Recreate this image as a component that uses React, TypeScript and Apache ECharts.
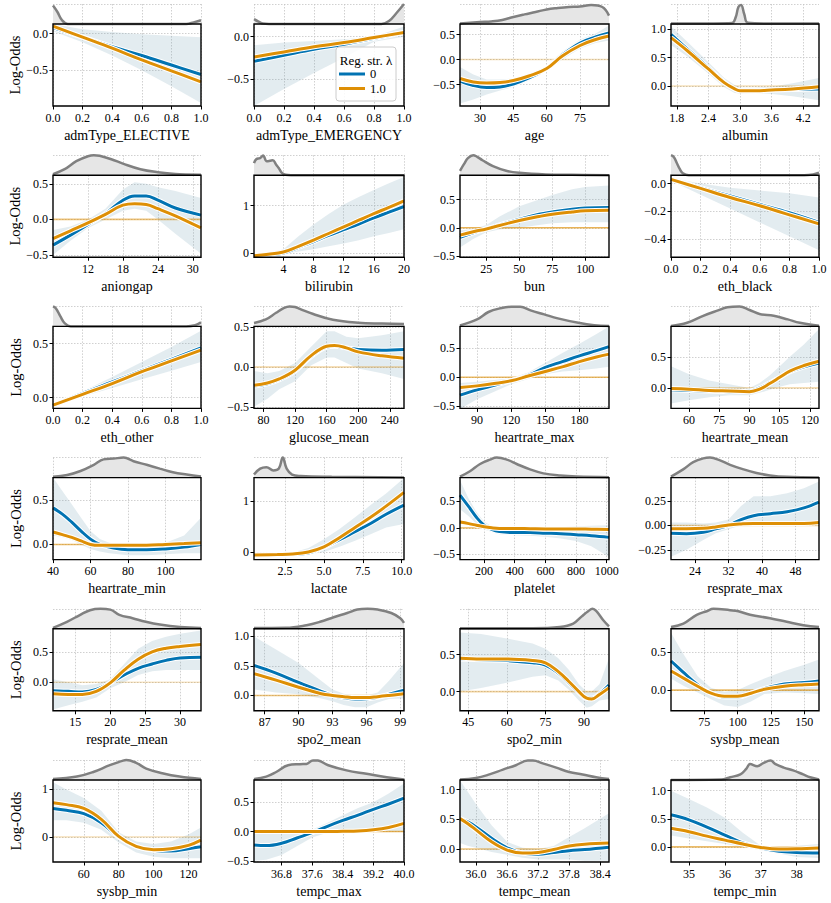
import React, { useEffect, useRef } from 'react';
import * as echarts from 'echarts';

const features = ['admType_ELECTIVE', 'admType_EMERGENCY', 'age', 'albumin', 'aniongap', 'bilirubin', 'bun', 'eth_black', 'eth_other', 'glucose_mean', 'heartrate_max', 'heartrate_mean', 'heartrate_min', 'lactate', 'platelet', 'resprate_max', 'resprate_mean', 'spo2_mean', 'spo2_min', 'sysbp_mean', 'sysbp_min', 'tempc_max', 'tempc_mean', 'tempc_min'];

const xLimits = [[0, 1], [0, 1], [21, 88], [1.69, 4.5], [6, 31.4], [0.1, 20], [5, 118], [0, 1], [0, 1], [68, 258], [75, 206], [51, 124.5], [40, 119], [0.5, 10.15], [43, 1015], [18.3, 53.6], [11.8, 33], [86.05, 99.33], [41.8, 99.7], [50, 161], [42.3, 127.2], [36.08, 40.0], [35.69, 38.57], [34.5, 38.62]];

const yLimits = [[-0.99, 0.13], [-0.82, 0.15], [-0.93, 0.71], [-0.35, 1.09], [-0.53, 0.62], [-0.09, 1.64], [-0.52, 0.93], [-0.53, 0.06], [-0.1, 0.66], [-0.52, 0.51], [-0.54, 0.88], [-0.33, 0.99], [-0.17, 0.75], [-0.15, 1.46], [-0.6, 0.95], [-0.35, 0.49], [-0.47, 0.88], [-0.26, 1.13], [-0.26, 0.85], [-0.27, 0.8], [-0.53, 1.2], [-0.52, 0.88], [-0.22, 1.16], [-0.27, 1.19]];

const xTickVals = [[0, 0.2, 0.4, 0.6, 0.8, 1.0], [0, 0.2, 0.4, 0.6, 0.8, 1.0], [30, 45, 60, 75], [1.8, 2.4, 3.0, 3.6, 4.2], [12, 18, 24, 30], [4, 8, 12, 16, 20], [25, 50, 75, 100], [0, 0.2, 0.4, 0.6, 0.8, 1.0], [0, 0.2, 0.4, 0.6, 0.8, 1.0], [80, 120, 160, 200, 240], [90, 120, 150, 180], [60, 75, 90, 105, 120], [40, 60, 80, 100], [2.5, 5.0, 7.5, 10.0], [200, 400, 600, 800, 1000], [24, 32, 40, 48], [15, 20, 25, 30], [87, 90, 93, 96, 99], [45, 60, 75, 90], [75, 100, 125, 150], [60, 80, 100, 120], [36.8, 37.6, 38.4, 39.2, 40.0], [36.0, 36.6, 37.2, 37.8, 38.4], [35, 36, 37, 38]];

const yTickVals = [[-0.5, 0], [-0.5, 0], [-0.5, 0, 0.5], [0, 0.5, 1], [-0.5, 0, 0.5], [0, 1], [-0.5, 0, 0.5], [-0.4, -0.2, 0], [0, 0.5], [-0.5, 0, 0.5], [-0.5, 0, 0.5], [0, 0.5], [0, 0.5], [0, 1], [-0.5, 0, 0.5], [-0.25, 0, 0.25], [0, 0.5], [0, 0.5, 1], [0, 0.5], [0, 0.5], [0, 1], [-0.5, 0, 0.5], [0, 0.5, 1], [0, 0.5, 1]];

const curveX = [
  [0, 0.2, 0.4, 0.6, 0.8, 1],
  [0, 0.2, 0.4, 0.6, 0.8, 1],
  [21, 27, 33, 39, 45, 52, 60, 67, 75, 82, 88],
  [1.69, 2.0, 2.4, 2.7, 2.9, 3.0, 3.3, 3.6, 4.0, 4.5],
  [6, 9, 12, 15, 18, 20, 22, 24, 27, 31.4],
  [0.1, 2, 4, 6, 8, 10, 12, 14, 16, 18, 20],
  [5, 15, 25, 35, 50, 65, 75, 90, 100, 118],
  [0, 0.2, 0.4, 0.6, 0.8, 1],
  [0, 0.2, 0.4, 0.6, 0.8, 1],
  [68, 85, 100, 120, 140, 160, 170, 185, 200, 230, 258],
  [75, 90, 105, 120, 135, 150, 165, 180, 195, 206],
  [51, 60, 70, 80, 90, 95, 100, 105, 110, 117, 124.5],
  [40, 45, 50, 55, 60, 65, 70, 80, 90, 100, 110, 119],
  [0.5, 2, 3, 4, 5, 6, 7, 8, 9, 10.15],
  [43, 100, 150, 200, 250, 300, 400, 500, 600, 700, 800, 900, 1015],
  [18.3, 22, 26, 29, 32, 35, 38, 42, 46, 50, 53.6],
  [11.8, 14, 16, 18, 20, 22, 24, 26, 28, 30, 33],
  [86.05, 88, 90, 92, 93, 94, 95, 96, 97, 98, 99.33],
  [41.8, 50, 60, 70, 75, 80, 84, 88, 91, 93, 96, 99.7],
  [50, 55, 60, 70, 80, 90, 100, 110, 120, 135, 150, 161],
  [42.3, 50, 60, 70, 80, 90, 100, 110, 120, 127.2],
  [36.08, 36.4, 36.8, 37.2, 37.6, 38.0, 38.4, 38.8, 39.2, 39.6, 40.0],
  [35.69, 35.85, 36.0, 36.3, 36.6, 36.9, 37.2, 37.5, 37.8, 38.1, 38.57],
  [34.5, 35.0, 35.5, 36.0, 36.5, 37.0, 37.5, 38.0, 38.62],
];

// regularisation strength 0
const blueY = [
  [0.08, -0.05, -0.18, -0.30, -0.43, -0.56],
  [-0.29, -0.22, -0.15, -0.09, -0.02, 0.05],
  [-0.43, -0.52, -0.56, -0.55, -0.49, -0.37, -0.18, 0.09, 0.33, 0.45, 0.53],
  [0.91, 0.65, 0.32, 0.07, -0.05, -0.08, -0.08, -0.07, -0.06, -0.05],
  [-0.36, -0.22, -0.07, 0.08, 0.27, 0.33, 0.33, 0.27, 0.16, 0.06],
  [-0.06, -0.04, 0.0, 0.12, 0.24, 0.37, 0.49, 0.61, 0.74, 0.86, 0.98],
  [-0.17, -0.09, -0.02, 0.05, 0.15, 0.24, 0.28, 0.33, 0.35, 0.36],
  [0.03, -0.03, -0.09, -0.15, -0.21, -0.28],
  [-0.07, 0.04, 0.145, 0.25, 0.355, 0.46],
  [-0.24, -0.21, -0.16, -0.05, 0.13, 0.25, 0.26, 0.24, 0.22, 0.21, 0.22],
  [-0.31, -0.22, -0.14, -0.06, 0.03, 0.17, 0.27, 0.37, 0.46, 0.53],
  [-0.03, -0.04, -0.05, -0.06, -0.05, 0.0, 0.08, 0.17, 0.26, 0.34, 0.40],
  [0.41, 0.34, 0.25, 0.15, 0.06, 0.0, -0.03, -0.06, -0.06, -0.05, -0.03, 0.0],
  [-0.06, -0.05, -0.045, -0.02, 0.09, 0.24, 0.40, 0.56, 0.74, 0.92],
  [0.62, 0.40, 0.20, 0.05, -0.03, -0.07, -0.09, -0.09, -0.10, -0.11, -0.13, -0.15, -0.18],
  [-0.08, -0.085, -0.07, -0.035, 0.0, 0.06, 0.10, 0.12, 0.14, 0.18, 0.24],
  [-0.14, -0.15, -0.16, -0.12, -0.01, 0.12, 0.23, 0.30, 0.36, 0.40, 0.41],
  [0.51, 0.38, 0.22, 0.07, 0.0, -0.04, -0.06, -0.055, -0.03, 0.02, 0.09],
  [0.44, 0.43, 0.42, 0.39, 0.36, 0.25, 0.12, -0.01, -0.09, -0.09, -0.03, 0.09],
  [0.38, 0.30, 0.22, 0.07, -0.04, -0.09, -0.09, -0.04, 0.02, 0.08, 0.10, 0.12],
  [0.60, 0.56, 0.49, 0.30, 0.0, -0.20, -0.28, -0.30, -0.25, -0.21],
  [-0.23, -0.24, -0.20, -0.11, -0.02, 0.09, 0.19, 0.28, 0.38, 0.47, 0.57],
  [0.51, 0.45, 0.37, 0.18, 0.02, -0.07, -0.09, -0.06, -0.03, -0.01, 0.03],
  [0.57, 0.48, 0.35, 0.21, 0.07, -0.02, -0.08, -0.10, -0.11],
];

// regularisation strength 1.0
const orangeY = [
  [0.10, -0.05, -0.20, -0.36, -0.51, -0.66],
  [-0.24, -0.18, -0.12, -0.07, -0.01, 0.05],
  [-0.38, -0.45, -0.47, -0.46, -0.42, -0.33, -0.18, 0.07, 0.28, 0.40, 0.47],
  [0.85, 0.62, 0.30, 0.06, -0.05, -0.08, -0.08, -0.07, -0.05, -0.01],
  [-0.27, -0.16, -0.05, 0.07, 0.20, 0.22, 0.21, 0.15, 0.05, -0.12],
  [-0.06, -0.03, 0.02, 0.14, 0.27, 0.41, 0.55, 0.69, 0.83, 0.96, 1.10],
  [-0.13, -0.07, -0.02, 0.04, 0.13, 0.20, 0.24, 0.28, 0.30, 0.31],
  [0.03, -0.035, -0.10, -0.16, -0.225, -0.29],
  [-0.07, 0.03, 0.13, 0.24, 0.34, 0.44],
  [-0.23, -0.20, -0.15, -0.04, 0.14, 0.26, 0.27, 0.24, 0.19, 0.14, 0.11],
  [-0.18, -0.15, -0.11, -0.06, 0.02, 0.10, 0.18, 0.27, 0.35, 0.40],
  [-0.01, -0.02, -0.04, -0.05, -0.06, -0.02, 0.07, 0.17, 0.27, 0.36, 0.43],
  [0.14, 0.11, 0.08, 0.04, 0.0, -0.01, -0.01, -0.01, -0.01, 0.0, 0.01, 0.02],
  [-0.06, -0.05, -0.04, 0.0, 0.10, 0.28, 0.48, 0.68, 0.90, 1.17],
  [0.11, 0.08, 0.05, 0.02, 0.0, -0.01, -0.01, -0.015, -0.02, -0.02, -0.02, -0.025, -0.03],
  [-0.035, -0.035, -0.03, -0.015, 0.005, 0.015, 0.02, 0.02, 0.02, 0.02, 0.03],
  [-0.19, -0.20, -0.20, -0.15, -0.01, 0.20, 0.38, 0.50, 0.56, 0.59, 0.62],
  [0.37, 0.26, 0.14, 0.03, 0.0, -0.02, -0.035, -0.035, -0.02, 0.0, 0.03],
  [0.45, 0.44, 0.44, 0.42, 0.39, 0.27, 0.14, 0.0, -0.09, -0.10, -0.04, 0.05],
  [0.25, 0.20, 0.15, 0.05, -0.04, -0.08, -0.08, -0.04, 0.01, 0.05, 0.07, 0.08],
  [0.72, 0.68, 0.60, 0.37, 0.01, -0.20, -0.27, -0.25, -0.18, -0.07],
  [0.0, 0.0, 0.0, 0.0, 0.0, 0.0, 0.005, 0.01, 0.03, 0.07, 0.14],
  [0.51, 0.42, 0.32, 0.12, -0.02, -0.07, -0.06, -0.01, 0.05, 0.08, 0.10],
  [0.33, 0.27, 0.19, 0.12, 0.05, -0.01, -0.04, -0.035, -0.02],
];

// envelope of the bootstrap curves
const bandLo = [
  [0.03, -0.12, -0.30, -0.50, -0.72, -0.95],
  [-0.82, -0.62, -0.43, -0.25, -0.06, 0.0],
  [-0.88, -0.80, -0.70, -0.62, -0.55, -0.42, -0.23, 0.0, 0.22, 0.33, 0.38],
  [0.72, 0.52, 0.22, -0.02, -0.12, -0.13, -0.12, -0.14, -0.18, -0.25],
  [-0.50, -0.30, -0.12, 0.0, 0.12, 0.15, 0.12, 0.0, -0.20, -0.48],
  [-0.09, -0.07, -0.03, 0.03, 0.08, 0.14, 0.20, 0.27, 0.35, 0.42, 0.50],
  [-0.35, -0.20, -0.08, -0.03, 0.0, 0.05, 0.08, 0.10, 0.10, 0.10],
  [0.02, -0.08, -0.18, -0.28, -0.38, -0.48],
  [-0.08, 0.01, 0.09, 0.17, 0.25, 0.33],
  [-0.50, -0.40, -0.28, -0.18, 0.02, 0.12, 0.12, 0.05, -0.02, -0.08, -0.15],
  [-0.55, -0.38, -0.25, -0.12, -0.03, 0.05, 0.10, 0.12, 0.15, 0.18],
  [-0.25, -0.20, -0.15, -0.12, -0.12, -0.08, -0.03, 0.02, 0.06, 0.08, 0.10],
  [0.10, 0.08, 0.05, 0.0, -0.05, -0.08, -0.10, -0.12, -0.12, -0.11, -0.10, -0.10],
  [-0.10, -0.08, -0.07, -0.05, 0.0, 0.10, 0.22, 0.35, 0.48, 0.55],
  [0.35, 0.22, 0.08, -0.03, -0.08, -0.12, -0.14, -0.15, -0.17, -0.20, -0.25, -0.35, -0.55],
  [-0.32, -0.25, -0.15, -0.08, -0.04, 0.0, 0.02, 0.03, 0.03, 0.01, 0.0],
  [-0.45, -0.38, -0.32, -0.25, -0.10, 0.0, 0.12, 0.18, 0.20, 0.20, 0.20],
  [0.10, 0.05, 0.02, -0.05, -0.10, -0.16, -0.20, -0.20, -0.12, -0.06, -0.05],
  [0.0, 0.05, 0.12, 0.20, 0.22, 0.15, 0.03, -0.12, -0.22, -0.20, -0.12, -0.10],
  [0.15, 0.10, 0.05, -0.03, -0.12, -0.20, -0.22, -0.15, -0.05, -0.03, -0.04, -0.05],
  [0.35, 0.35, 0.30, 0.15, -0.12, -0.33, -0.42, -0.45, -0.45, -0.45],
  [-0.50, -0.48, -0.40, -0.25, -0.10, -0.02, 0.0, 0.0, 0.0, 0.0, 0.0],
  [0.10, 0.05, 0.02, -0.05, -0.10, -0.15, -0.18, -0.18, -0.18, -0.20, -0.20],
  [0.20, 0.15, 0.10, 0.05, 0.0, -0.06, -0.12, -0.18, -0.20],
];

const bandHi = [
  [0.13, 0.06, 0.02, -0.01, -0.03, -0.05],
  [-0.10, -0.07, -0.05, -0.03, 0.0, 0.12],
  [-0.15, -0.30, -0.40, -0.40, -0.38, -0.30, -0.13, 0.16, 0.40, 0.52, 0.68],
  [1.05, 0.78, 0.42, 0.14, 0.02, -0.03, -0.03, -0.01, 0.05, 0.14],
  [-0.15, -0.10, 0.0, 0.15, 0.42, 0.52, 0.50, 0.45, 0.40, 0.30],
  [-0.03, 0.0, 0.08, 0.35, 0.60, 0.82, 1.02, 1.18, 1.33, 1.47, 1.60],
  [-0.05, -0.02, 0.05, 0.20, 0.38, 0.50, 0.58, 0.68, 0.72, 0.75],
  [0.04, 0.0, -0.03, -0.05, -0.07, -0.10],
  [-0.06, 0.06, 0.19, 0.33, 0.47, 0.62],
  [-0.05, -0.08, -0.05, 0.05, 0.25, 0.45, 0.45, 0.38, 0.36, 0.40, 0.45],
  [-0.10, -0.08, -0.05, -0.02, 0.08, 0.25, 0.42, 0.58, 0.75, 0.88],
  [0.35, 0.22, 0.12, 0.06, 0.0, 0.08, 0.20, 0.35, 0.50, 0.70, 0.95],
  [0.75, 0.60, 0.45, 0.30, 0.15, 0.06, 0.02, 0.0, 0.0, 0.02, 0.10, 0.30],
  [-0.02, -0.02, -0.01, 0.08, 0.25, 0.45, 0.68, 0.92, 1.15, 1.45],
  [0.90, 0.55, 0.30, 0.12, 0.03, 0.0, -0.02, -0.02, 0.0, 0.01, 0.03, 0.04, 0.05],
  [0.03, 0.03, 0.02, 0.03, 0.06, 0.20, 0.30, 0.30, 0.33, 0.38, 0.45],
  [0.05, 0.0, -0.05, -0.03, 0.05, 0.30, 0.55, 0.68, 0.75, 0.80, 0.85],
  [1.0, 0.78, 0.55, 0.25, 0.10, 0.03, 0.0, 0.0, 0.05, 0.25, 0.55],
  [0.80, 0.78, 0.72, 0.65, 0.58, 0.45, 0.30, 0.10, 0.0, 0.0, 0.10, 0.45],
  [0.75, 0.60, 0.45, 0.18, 0.03, -0.02, 0.0, 0.08, 0.15, 0.25, 0.33, 0.40],
  [1.15, 1.0, 0.82, 0.55, 0.10, -0.10, -0.15, -0.10, 0.05, 0.20],
  [0.02, 0.02, 0.02, 0.02, 0.03, 0.15, 0.28, 0.40, 0.50, 0.65, 0.82],
  [1.15, 0.95, 0.75, 0.40, 0.12, 0.02, 0.0, 0.05, 0.20, 0.35, 0.60],
  [1.0, 0.85, 0.70, 0.52, 0.25, 0.02, 0.0, 0.02, 0.05],
];

// share of bootstrap fits shrunk to exactly zero (drawn as orange line at 0)
const zeroLineWeight = [0, 0, 0.35, 0.35, 0.7, 0, 0.9, 0, 0, 0.5, 0.8, 0.4, 0.8, 0, 0.7, 0.5, 0.3, 0.7, 0.5, 0.8, 0.3, 0.9, 0.7, 0.8];

// feature distribution (scaled density)
const densX = [
  [0, 0.03, 0.06, 0.1, 0.5, 0.9, 0.95, 1.0],
  [0, 0.03, 0.06, 0.1, 0.5, 0.85, 0.9, 0.95, 1.0],
  [21, 30, 35, 40, 45, 50, 55, 60, 65, 70, 75, 80, 85, 88],
  [1.69, 2.5, 2.85, 2.92, 2.97, 3.02, 3.08, 3.15, 3.5, 4.5],
  [6, 8, 10, 12, 13, 14, 16, 18, 21, 24, 27, 31.4],
  [0.1, 0.4, 0.9, 1.3, 1.8, 2.2, 2.6, 3.0, 3.4, 3.8, 4.3, 5, 20],
  [5, 8, 11, 15, 18, 22, 30, 40, 50, 70, 90, 118],
  [0, 0.02, 0.04, 0.06, 0.08, 0.12, 0.9, 0.96, 1.0],
  [0, 0.02, 0.05, 0.08, 0.12, 0.9, 0.96, 1.0],
  [68, 83, 96, 105, 113, 120, 126, 143, 168, 200, 230, 258],
  [75, 90, 100, 110, 120, 128, 137, 149, 161, 179, 193, 206],
  [51, 59, 67, 74, 79, 85, 90, 95, 102, 109, 115, 124.5],
  [40, 47.6, 54.7, 61.8, 67, 72.4, 77.7, 83, 90, 97, 104, 111.4, 119],
  [0.5, 0.9, 1.3, 1.75, 2.1, 2.35, 2.6, 2.95, 3.5, 5.5, 10.15],
  [43, 108, 174, 239, 283, 348, 413, 500, 587, 696, 804, 1015],
  [18.3, 21.2, 23.6, 26, 27.6, 30, 32.4, 35.6, 38.7, 41.9, 45.9, 53.6],
  [11.8, 13.8, 15.7, 17.1, 18.6, 20, 21.3, 23.2, 25.1, 27.1, 30, 33],
  [86.05, 88.9, 90.7, 91.9, 93.1, 94.3, 95.2, 96.1, 97, 98.2, 99, 99.33],
  [41.8, 70, 80.6, 85.8, 89, 91.6, 93.3, 94.8, 97.4, 99.7],
  [50, 59.3, 69.3, 76.8, 81.8, 94.3, 100.5, 109.3, 124.3, 136.8, 149.3, 161],
  [42.3, 56, 65.4, 74.9, 82.5, 84.3, 90, 95.8, 105, 114.9, 127.2],
  [36.08, 36.4, 36.66, 36.97, 37.28, 37.45, 37.62, 37.75, 38.02, 38.5, 39.02, 39.55, 40],
  [35.69, 36.0, 36.26, 36.52, 36.77, 37.0, 37.1, 37.29, 37.55, 37.8, 38.06, 38.32, 38.57],
  [34.5, 35.9, 36.15, 36.43, 36.6, 36.7, 36.9, 37.08, 37.27, 37.41, 37.64, 37.9, 38.18, 38.37, 38.62],
];

const densY = [
  [0.92, 0.6, 0.2, 0.0, 0.0, 0.0, 0.08, 0.19],
  [0.24, 0.12, 0.02, 0.0, 0.0, 0.0, 0.15, 0.55, 1.0],
  [0.03, 0.1, 0.13, 0.2, 0.35, 0.48, 0.6, 0.73, 0.8, 0.85, 0.87, 0.95, 0.85, 0.42],
  [0.03, 0.03, 0.05, 0.35, 0.85, 0.95, 0.5, 0.06, 0.03, 0.03],
  [0.05, 0.3, 0.7, 0.95, 1.0, 0.97, 0.8, 0.58, 0.3, 0.15, 0.06, 0.02],
  [0.6, 0.8, 0.85, 0.98, 0.7, 0.72, 0.75, 0.55, 0.35, 0.12, 0.02, 0.0, 0.0],
  [0.22, 0.55, 0.85, 1.0, 0.92, 0.75, 0.45, 0.22, 0.12, 0.04, 0.02, 0.0],
  [1.0, 0.9, 0.6, 0.3, 0.1, 0.0, 0.0, 0.04, 0.12],
  [1.0, 0.9, 0.5, 0.15, 0.0, 0.0, 0.06, 0.2],
  [0.17, 0.35, 0.68, 0.9, 1.0, 0.97, 0.88, 0.62, 0.33, 0.18, 0.14, 0.12],
  [0.05, 0.35, 0.72, 0.9, 0.98, 0.98, 0.8, 0.6, 0.4, 0.18, 0.06, 0.02],
  [0.02, 0.18, 0.53, 0.79, 0.96, 1.0, 0.82, 0.62, 0.53, 0.35, 0.18, 0.03],
  [0.04, 0.13, 0.33, 0.64, 0.91, 0.95, 1.0, 0.82, 0.64, 0.45, 0.27, 0.15, 0.05],
  [0.15, 0.45, 0.52, 0.36, 0.45, 1.0, 0.45, 0.15, 0.08, 0.04, 0.0],
  [0.05, 0.32, 0.68, 0.9, 1.0, 0.9, 0.68, 0.41, 0.21, 0.1, 0.05, 0.02],
  [0.05, 0.41, 0.77, 0.96, 1.0, 0.86, 0.64, 0.41, 0.23, 0.11, 0.04, 0.01],
  [0.05, 0.35, 0.7, 0.93, 1.0, 0.96, 0.7, 0.53, 0.35, 0.21, 0.09, 0.04],
  [0.04, 0.05, 0.18, 0.35, 0.58, 0.79, 0.96, 1.0, 0.96, 0.79, 0.53, 0.3],
  [0.03, 0.03, 0.09, 0.26, 0.61, 0.88, 1.0, 0.88, 0.44, 0.12],
  [0.09, 0.26, 0.7, 0.88, 1.0, 0.93, 0.88, 0.7, 0.53, 0.35, 0.18, 0.09],
  [0.05, 0.17, 0.4, 0.74, 0.97, 1.0, 0.86, 0.57, 0.34, 0.17, 0.05],
  [0.05, 0.17, 0.4, 0.74, 0.79, 0.8, 0.98, 0.97, 0.74, 0.48, 0.31, 0.14, 0.03],
  [0.02, 0.1, 0.28, 0.52, 0.74, 0.97, 0.97, 0.83, 0.62, 0.4, 0.28, 0.14, 0.05],
  [0.0, 0.02, 0.14, 0.28, 0.57, 0.8, 0.69, 0.86, 0.97, 0.79, 0.62, 0.48, 0.28, 0.14, 0.03],
];

const legendTitle = 'Reg. str. \u03bb';
const seriesNames = ['0', '1.0'];

const FONT = '"Liberation Serif", "Times New Roman", Times, serif';
const BLUE = '#0173b2';
const ORANGE = '#de8f05';
const COL_LEFT = [53, 254, 460, 671];
const COL_W = [148, 150, 149, 148];
const ROW_TOP0 = 24;
const ROW_STEP = 151.2;
const MAIN_H = 82;
const DENS_H = 20;

function stepDecimals(ticks: number[]): number {
  if (ticks.length < 2) return 1;
  const step = Math.abs(ticks[1] - ticks[0]);
  for (let d = 0; d < 4; d++) {
    const s = step * Math.pow(10, d);
    if (Math.abs(s - Math.round(s)) < 1e-6) return d;
  }
  return 3;
}
const fmt = (v: number, d: number) => v.toFixed(d).replace('-', '\u2212');
const zip = (xs: number[], ys: number[]) => xs.map((x, k) => [x, ys[k]]);

export default function App() {
  const ref = useRef<HTMLDivElement>(null);
  useEffect(() => {
    if (!ref.current) return;
    const chart = echarts.init(ref.current, null, { renderer: 'svg' });
    const grid: any[] = [];
    const xAxis: any[] = [];
    const yAxis: any[] = [];
    const series: any[] = [];
    const graphic: any[] = [];

    const gridLine = { show: true, lineStyle: { color: '#c4c4c4', width: 0.8, type: [1.5, 1.5] } };

    features.forEach((feat, i) => {
      const r = Math.floor(i / 4);
      const c = i % 4;
      const left = COL_LEFT[c];
      const w = COL_W[c];
      const top = ROW_TOP0 + r * ROW_STEP;
      const [xmin, xmax] = xLimits[i];
      const [ymin, ymax] = yLimits[i];
      const xt = xTickVals[i];
      const yt = yTickVals[i];
      const dx = stepDecimals(xt);
      const dy = stepDecimals(yt);
      const gm = 2 * i;
      const gd = 2 * i + 1;

      grid.push({ left, top, width: w, height: MAIN_H, show: false });
      grid.push({ left, top: top - DENS_H, width: w, height: DENS_H, show: false });

      xAxis.push({
        gridIndex: gm, type: 'value', min: xmin, max: xmax,
        axisLine: { show: false, onZero: false },
        axisTick: { show: true, length: 3.5, lineStyle: { color: '#000', width: 1 }, customValues: xt },
        axisLabel: { customValues: xt, formatter: (v: number) => fmt(v, dx), fontSize: 12, margin: 5.5, color: '#000', fontFamily: FONT },
        splitLine: gridLine,
        name: feat, nameLocation: 'middle', nameGap: 22,
        nameTextStyle: { fontSize: 14, fontFamily: FONT, color: '#000' },
      });
      yAxis.push({
        gridIndex: gm, type: 'value', min: ymin, max: ymax,
        axisLine: { show: false, onZero: false },
        axisTick: { show: true, length: 3.5, lineStyle: { color: '#000', width: 1 }, customValues: yt },
        axisLabel: { customValues: yt, formatter: (v: number) => fmt(v, dy), fontSize: 12, margin: 5, color: '#000', fontFamily: FONT },
        splitLine: gridLine,
        name: c === 0 ? 'Log-Odds' : '', nameLocation: 'middle', nameGap: 30, nameRotate: 90,
        nameTextStyle: { fontSize: 14.5, fontFamily: FONT, color: '#000' },
      });
      xAxis.push({
        gridIndex: gd, type: 'value', min: xmin, max: xmax,
        axisLine: { show: false }, axisTick: { show: false, customValues: xt },
        axisLabel: { show: false, customValues: xt }, splitLine: gridLine,
      });
      yAxis.push({
        gridIndex: gd, type: 'value', min: 0, max: 1,
        axisLine: { show: false }, axisTick: { show: false, customValues: [1] },
        axisLabel: { show: false, customValues: [1] }, splitLine: gridLine,
      });

      const xs = curveX[i];
      const lo = bandLo[i];
      const hi = bandHi[i];
      const common = { type: 'line', xAxisIndex: gm, yAxisIndex: gm, symbol: 'none', silent: true, smooth: 0.4 };

      series.push({
        type: 'custom', xAxisIndex: gm, yAxisIndex: gm, silent: true, clip: true,
        data: [[xmin, 0]], encode: { x: 0, y: 1 },
        renderItem: (_p: any, api: any) => {
          const upper = xs.map((x, k) => api.coord([x, hi[k]]));
          const lower = xs.map((x, k) => api.coord([x, lo[k]])).reverse();
          return {
            type: 'polygon',
            shape: { points: upper.concat(lower) },
            style: { fill: 'rgba(115,160,180,0.2)', stroke: 'none' },
          };
        },
      });
      if (zeroLineWeight[i] > 0) {
        series.push({ ...common, smooth: false, data: [[xmin, 0], [xmax, 0]], lineStyle: { color: ORANGE, width: 1.6, opacity: 0.75 * zeroLineWeight[i] } });
      }
      series.push({ ...common, data: zip(xs, blueY[i]), lineStyle: { color: '#fff', width: 5 } });
      series.push({ ...common, name: seriesNames[0], color: BLUE, data: zip(xs, blueY[i]), lineStyle: { color: BLUE, width: 3 } });
      series.push({ ...common, data: zip(xs, orangeY[i]), lineStyle: { color: '#fff', width: 5 } });
      series.push({ ...common, name: seriesNames[1], color: ORANGE, data: zip(xs, orangeY[i]), lineStyle: { color: ORANGE, width: 3 } });

      series.push({
        type: 'line', xAxisIndex: gd, yAxisIndex: gd, symbol: 'none', silent: true, smooth: 0.4, clip: false,
        data: zip(densX[i], densY[i]),
        lineStyle: { color: '#808080', width: 2.5 },
        areaStyle: { color: '#e6e6e6', opacity: 1 },
      });

      graphic.push({
        type: 'rect', silent: true, z: 100,
        shape: { x: left, y: top, width: w, height: MAIN_H },
        style: { fill: 'none', stroke: '#000', lineWidth: 1.4 },
      });
    });

    graphic.push({
      type: 'rect', silent: true, z: 110,
      shape: { x: 336, y: 47, width: 60, height: 54, r: 3 },
      style: { fill: 'rgba(255,255,255,0.85)', stroke: '#cccccc', lineWidth: 1 },
    });
    graphic.push({
      type: 'text', silent: true, z: 111, x: 366, y: 60,
      style: { text: legendTitle, fontSize: 13, fontFamily: FONT, fill: '#000', align: 'center', verticalAlign: 'middle', textAlign: 'center', textVerticalAlign: 'middle' },
    });

    chart.setOption({
      animation: false,
      textStyle: { fontFamily: FONT },
      grid, xAxis, yAxis, series, graphic,
      legend: {
        data: seriesNames, orient: 'vertical', left: 339, top: 67.5, padding: 0,
        icon: 'rect', itemWidth: 26, itemHeight: 3, itemGap: 1.5, selectedMode: false, z: 120,
        textStyle: { fontSize: 12.5, fontFamily: FONT, color: '#000', lineHeight: 13 },
      },
    });
    return () => chart.dispose();
  }, []);
  return <div ref={ref} style={{ position: 'absolute', left: 0, top: 0, width: 831, height: 903 }} />;
}
